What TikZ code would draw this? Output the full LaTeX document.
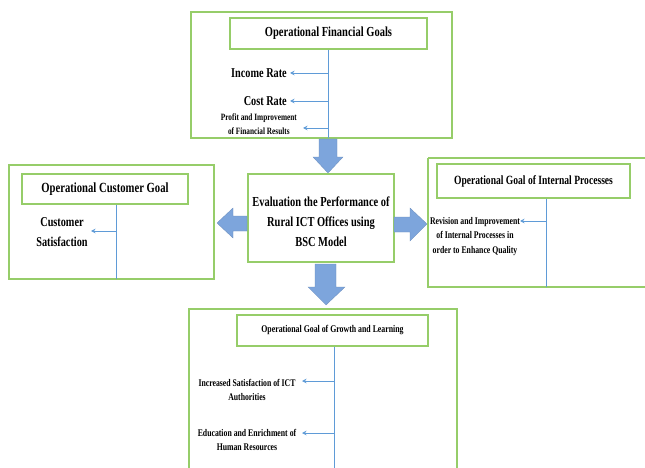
\documentclass[tikz,border=0pt]{standalone}
\usepackage{fontspec}
\setmainfont[FakeStretch=0.76]{Liberation Serif}
\usetikzlibrary{arrows.meta}
\definecolor{gbox}{RGB}{150,205,105}
\definecolor{lblue}{RGB}{95,155,215}
\definecolor{bblue}{RGB}{125,165,220}
\newcommand{\fs}[1]{\fontsize{#1}{#1}\selectfont\bfseries}
\begin{document}
\begin{tikzpicture}[x=1pt,y=-1pt,
 outer/.style={draw=gbox,line width=1.1pt},
 title/.style={draw=gbox,line width=1.1pt,inner sep=0pt},
 lead/.style={draw=lblue,line width=0.8pt},
 tip/.style={draw=lblue,line width=0.8pt,-{Stealth[length=4.5pt,width=4.5pt]}},
 lbl/.style={align=center,inner sep=0pt},
 block/.style={fill=bblue,draw=bblue!85!black,line width=0.3pt}]
\useasboundingbox (0,0) rectangle (645,468);

% ---------- top: financial ----------
\draw[outer] (191,12) rectangle (452,138);
\node[title,minimum width=197,minimum height=31,font=\fs{13.8}] (fin) at (328.5,33.5) {Operational Financial Goals};
\coordinate (finEnd) at (328,138);
\draw[lead] (fin.south) -- (fin.south |- finEnd);
\node[lbl,anchor=east,font=\fs{13.5}] (inc) at (287,73) {Income Rate};
\node[lbl,anchor=east,font=\fs{13.5}] (cost) at (287,101) {Cost Rate};
\node[lbl,anchor=east,font=\fs{9.6}] (prof) at (297,124) {Profit and Improvement\\[4.5pt] of Financial Results};
\draw[tip] (inc.east -| fin.south) -- ([xshift=3]inc.east);
\draw[tip] (cost.east -| fin.south) -- ([xshift=3]cost.east);
\draw[tip] (fin.south |- 0,128) -- (303,128);

% ---------- centre ----------
\node[title,minimum width=146,minimum height=88] (eval) at (321,218) {};
\node[lbl,font=\fs{13.75}] (evalt) at (321,221.5)
  {Evaluation the Performance of\\[6.5pt] Rural ICT Offices using\\[6.5pt] BSC Model};

% ---------- left: customer ----------
\draw[outer] (9,165) rectangle (214,279);
\node[title,minimum width=166,minimum height=30,font=\fs{14}] (cus) at (105,189) {Operational Customer Goal};
\coordinate (cusEnd) at (116,279);
\draw[lead] (cus.south -| cusEnd) -- (cusEnd);
\node[lbl,font=\fs{13.5}] (csat) at (62,232) {Customer\\[6pt] Satisfaction};
\draw[tip] (cusEnd |- 0,231) -- (91,231);

% ---------- right: internal processes ----------
\draw[outer] (428,158) -- (650,158);
\draw[outer] (428,158) -- (428,287) -- (650,287);
\node[title,minimum width=193,minimum height=34,font=\fs{12.6}] (inp) at (533.5,181) {Operational Goal of Internal Processes};
\coordinate (inpEnd) at (546,287);
\draw[lead] (inp.south -| inpEnd) -- (inpEnd);
\node[lbl,font=\fs{10.2}] (rev) at (475,236.5) {Revision and Improvement\\[4.5pt] of Internal Processes in\\[4.5pt] order to Enhance Quality};
\draw[tip] (inpEnd |- 0,221) -- (520,221);

% ---------- bottom: growth and learning ----------
\draw[outer] (189,475) -- (189,309) -- (457,309) -- (457,475);
\node[title,minimum width=191,minimum height=31,font=\fs{10.3}] (grw) at (332.5,330.5) {Operational Goal of Growth and Learning};
\coordinate (grwEnd) at (334,470);
\draw[lead] (grw.south -| grwEnd) -- (grwEnd);
\node[lbl,font=\fs{10.2}] (ict) at (247,390) {Increased Satisfaction of ICT\\[3.5pt] Authorities};
\node[lbl,font=\fs{10.2}] (hr) at (247,440) {Education and Enrichment of\\[3.5pt] Human Resources};
\draw[tip] (grwEnd |- 0,381) -- (302,381);
\draw[tip] (grwEnd |- 0,433) -- (302,433);

% ---------- block arrows ----------
\draw[block] (319,139) -- (337,139) -- (337,157) -- (343,157) -- (328,173) -- (313,157) -- (319,157) -- cycle;
\draw[block] (247,216) -- (233,216) -- (233,208) -- (217,223) -- (233,238) -- (233,231) -- (247,231) -- cycle;
\draw[block] (394,217) -- (410,217) -- (410,208) -- (427,224) -- (410,241) -- (410,232) -- (394,232) -- cycle;
\draw[block] (315,264) -- (336,264) -- (336,287) -- (345,287) -- (326,305) -- (308,287) -- (315,287) -- cycle;
\end{tikzpicture}
\end{document}
